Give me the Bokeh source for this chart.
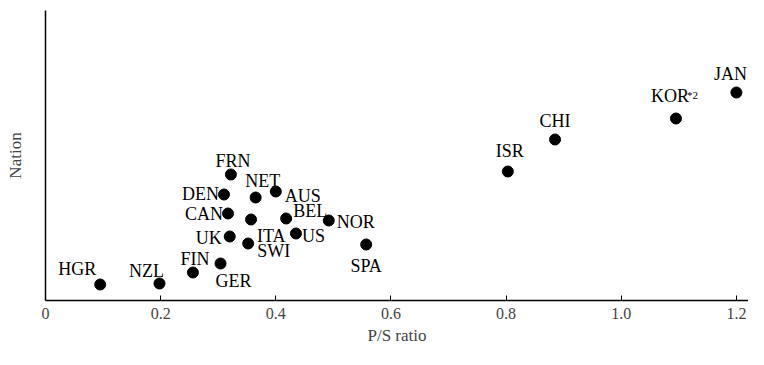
from bokeh.plotting import figure
from bokeh.models import ColumnDataSource, LabelSet, Label, FixedTicker, Range1d
from bokeh.embed import file_html
from bokeh.resources import INLINE

# ---- data ----
nations = ["HGR", "NZL", "FIN", "GER", "UK", "CAN", "DEN", "FRN", "NET", "AUS",
           "ITA", "SWI", "BEL", "US", "NOR", "SPA", "ISR", "CHI", "KOR", "JAN"]
ps_ratio = [0.095, 0.198, 0.256, 0.304, 0.320, 0.317, 0.310, 0.322, 0.365, 0.400,
            0.357, 0.352, 0.418, 0.435, 0.492, 0.557, 0.803, 0.885, 1.095, 1.200]
nation_score = [1.6, 1.7, 2.8, 3.7, 6.4, 8.7, 10.6, 12.6, 10.3, 10.9,
                8.1, 5.7, 8.2, 6.7, 8.0, 5.6, 12.9, 16.1, 18.2, 20.8]
tick_values = [0, 0.2, 0.4, 0.6, 0.8, 1.0, 1.2]
tick_labels = ["0", "0.2", "0.4", "0.6", "0.8", "1.0", "1.2"]

# ---- label placement (style) ----
label_align = ["right", "center", "center", "left", "right", "right", "right", "center", "center", "left",
               "left", "left", "left", "left", "left", "center", "center", "center", "center", "center"]
label_dx = [-4, -13, 2, -5, -8, -5, -5, 2, 7, 9,
            6, 9, 7, 6, 8, 0, 2, 0, -6, -6]
label_dy = [10, 7, 8, -23, -7, -6, -5, 8, 11, -10,
            -22, -13, 2, -8, -7, -27, 15, 13, 17, 13]

FONT = "Liberation Serif"

src = ColumnDataSource(dict(x=ps_ratio, y=nation_score, name=nations,
                            align=label_align, dx=label_dx, dy=label_dy))

p = figure(width=748, height=349, output_backend="svg", toolbar_location=None,
           x_range=Range1d(0, 1.221), y_range=Range1d(0, 29.0),
           min_border_left=45, min_border_right=0, min_border_top=10, min_border_bottom=49)
p.outline_line_color = None
p.grid.grid_line_color = None
p.background_fill_color = "white"
p.border_fill_color = "white"

p.scatter("x", "y", source=src, size=11, color="black")

labels = LabelSet(x="x", y="y", text="name", source=src, x_offset="dx", y_offset="dy",
                  text_align="align", text_baseline="alphabetic",
                  text_font=FONT, text_font_size="18px", text_color="black")
p.add_layout(labels)

kor_i = nations.index("KOR")
p.add_layout(Label(x=ps_ratio[kor_i], y=nation_score[kor_i], x_offset=11, y_offset=24,
                   text="*2", text_font=FONT, text_font_size="11px",
                   text_baseline="alphabetic", text_color="black"))

# x axis
xa = p.xaxis[0]
xa.ticker = FixedTicker(ticks=tick_values)
xa.major_label_overrides = {v: s for v, s in zip(tick_values, tick_labels)}
xa.major_tick_in = 5
xa.major_tick_out = 0
xa.minor_tick_line_color = None
xa.axis_line_color = "black"
xa.axis_line_width = 1.5
xa.major_tick_line_color = "black"
xa.major_label_text_font = FONT
xa.major_label_text_font_size = "16px"
xa.major_label_standoff = 7
xa.axis_label = "P/S ratio"
xa.axis_label_text_font = FONT
xa.axis_label_text_font_style = "normal"
xa.axis_label_text_font_size = "17px"
xa.axis_label_standoff = 4

# y axis
ya = p.yaxis[0]
ya.ticker = FixedTicker(ticks=[])
ya.major_tick_line_color = None
ya.minor_tick_line_color = None
ya.axis_line_color = "black"
ya.axis_line_width = 1.5
ya.axis_label = "Nation"
ya.axis_label_text_font = FONT
ya.axis_label_text_font_style = "normal"
ya.axis_label_text_font_size = "17px"
ya.axis_label_standoff = 21

open("out.html", "w").write(file_html(p, INLINE))
